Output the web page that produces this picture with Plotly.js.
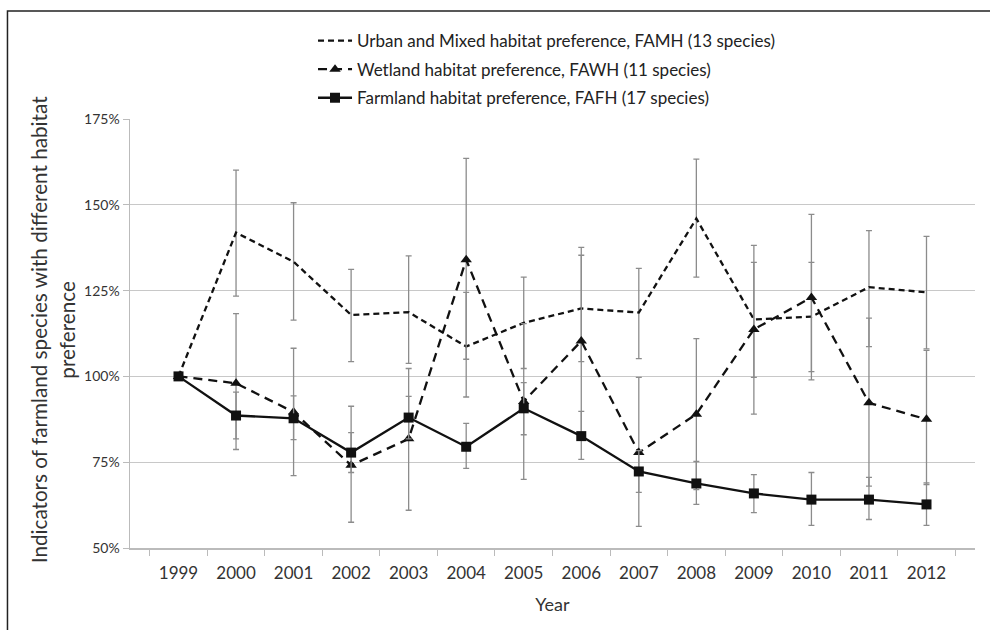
<!DOCTYPE html>
<html>
<head>
<meta charset="utf-8">
<script src="https://cdn.plot.ly/plotly-3.0.1.min.js"></script>
<style>html,body{margin:0;padding:0;background:#fff;}#chart{width:990px;height:630px;}</style>
</head>
<body>
<div id="chart"></div>
<script>
// ---- data ----
var years = ['1999','2000','2001','2002','2003','2004','2005','2006','2007','2008','2009','2010','2011','2012'];

var famhName = 'Urban and Mixed habitat preference, FAMH (13 species)';
var famhValues = [100, 141.9, 133.4, 117.9, 118.7, 108.7, 115.6, 119.8, 118.6, 146.0, 116.6, 117.4, 126.0, 124.5];
var famhUpper  = [100, 160.1, 150.6, 131.2, 135.1, 124.5, 128.9, 135.3, 131.5, 163.3, 133.2, 133.2, 142.5, 140.8];
var famhLower  = [100, 123.4, 116.4, 104.3, 103.8, 94.0, 102.3, 104.3, 105.2, 128.9, 99.7, 101.4, 108.7, 108.0];

var fawhName = 'Wetland habitat preference, FAWH (11 species)';
var fawhValues = [100, 98.0, 89.6, 74.1, 81.8, 134.0, 92.7, 110.3, 77.8, 89.0, 113.7, 123.0, 92.3, 87.5];
var fawhUpper  = [100, 118.3, 108.2, 91.3, 102.3, 163.5, 115.4, 137.6, 99.7, 111.0, 138.2, 147.2, 117.0, 107.6];
var fawhLower  = [100, 78.7, 71.1, 57.5, 61.0, 105.0, 70.0, 83.0, 56.3, 67.0, 89.0, 99.0, 68.0, 68.5];

var fafhName = 'Farmland habitat preference, FAFH (17 species)';
var fafhValues = [100, 88.6, 87.8, 77.8, 88.0, 79.5, 90.7, 82.6, 72.3, 68.8, 65.9, 64.1, 64.1, 62.7];
var fafhUpper  = [100, 95.4, 94.3, 83.6, 94.2, 86.3, 98.2, 89.8, 78.4, 75.2, 71.4, 72.0, 70.6, 69.0];
var fafhLower  = [100, 81.8, 81.6, 72.0, 81.8, 73.2, 83.0, 75.8, 66.2, 62.7, 60.3, 56.6, 58.3, 56.6];

var yTicks = [50, 75, 100, 125, 150, 175];
var yTickLabels = ['50%', '75%', '100%', '125%', '150%', '175%'];

var yTitleLine1 = 'Indicators of farmland species with different habitat';
var yTitleLine2 = 'preference';

// ---- helpers ----
function plus(v, up) { return v.map(function (x, i) { return up[i] - x; }); }
function minus(v, lo) { return v.map(function (x, i) { return x - lo[i]; }); }
function err(v, up, lo) {
  return { type: 'data', symmetric: false, array: plus(v, up), arrayminus: minus(v, lo),
           color: '#8c8c8c', thickness: 1.3, width: 3 };
}

var traces = [
  { x: years, y: famhValues, name: famhName, legendgroup: 'a', type: 'scatter', mode: 'lines',
    line: { color: '#111', width: 2.3, dash: '6px,4px' },
    error_y: err(famhValues, famhUpper, famhLower) },
  { x: years, y: fawhValues, name: fawhName, legendgroup: 'b', type: 'scatter', mode: 'lines+markers',
    line: { color: '#111', width: 2.3, dash: '9px,6px' },
    marker: { symbol: 'triangle-up', size: 10, color: '#111' },
    error_y: err(fawhValues, fawhUpper, fawhLower) },
  { x: years, y: fafhValues, name: fafhName, legendgroup: 'c', type: 'scatter', mode: 'lines+markers',
    line: { color: '#111', width: 2.3 },
    marker: { symbol: 'square', size: 10, color: '#111' },
    error_y: err(fafhValues, fafhUpper, fafhLower) }
];

var font = 'Lato, "Open Sans", sans-serif';
var layout = {
  width: 990, height: 630,
  margin: { l: 130, r: 15, t: 119, b: 82 },
  paper_bgcolor: '#fff', plot_bgcolor: '#fff',
  font: { family: font, color: '#333' },
  showlegend: true,
  legend: { x: 0.2166, xanchor: 'left', y: 1.2238, yanchor: 'top',
            font: { family: font, size: 17, color: '#222' },
            traceorder: 'grouped', tracegroupgap: 3.5, itemwidth: 34, bgcolor: 'rgba(0,0,0,0)' },
  xaxis: {
    type: 'category', tickvals: years, ticktext: years,
    tickson: 'boundaries', ticks: 'outside', ticklen: 6, tickcolor: '#bbb',
    showline: true, linecolor: '#bbb', linewidth: 1.5, showgrid: false,
    tickfont: { family: font, size: 17, color: '#333' }, ticklabelstandoff: 9,
    title: { text: 'Year', font: { family: font, size: 18, color: '#333' }, standoff: 16 },
    fixedrange: true
  },
  yaxis: {
    range: [50, 175], tickvals: yTicks, ticktext: yTickLabels,
    ticks: 'outside', ticklen: 6, tickcolor: '#bbb',
    showline: true, linecolor: '#bbb', linewidth: 1.5,
    showgrid: true, gridcolor: '#c8c8c8', gridwidth: 1.2, zeroline: false,
    tickfont: { family: font, size: 14, color: '#333' },
    fixedrange: true
  },
  annotations: [{
    xref: 'paper', yref: 'paper', x: -0.1075, y: 0.508, xanchor: 'center', yanchor: 'middle',
    textangle: -90, showarrow: false, text: yTitleLine1,
    font: { family: font, size: 20.7, color: '#333' }
  }, {
    xref: 'paper', yref: 'paper', x: -0.0750, y: 0.508, xanchor: 'center', yanchor: 'middle',
    textangle: -90, showarrow: false, text: yTitleLine2,
    font: { family: font, size: 20.7, color: '#333' }
  }],
  shapes: [{
    type: 'rect', xref: 'paper', yref: 'paper',
    x0: -0.145, x1: 1.03, y0: -0.22, y1: 1.2517,
    line: { color: '#222', width: 1.5 }, fillcolor: 'rgba(0,0,0,0)', layer: 'below'
  }]
};

Plotly.newPlot('chart', traces, layout, { staticPlot: true, displayModeBar: false });
</script>
</body>
</html>
